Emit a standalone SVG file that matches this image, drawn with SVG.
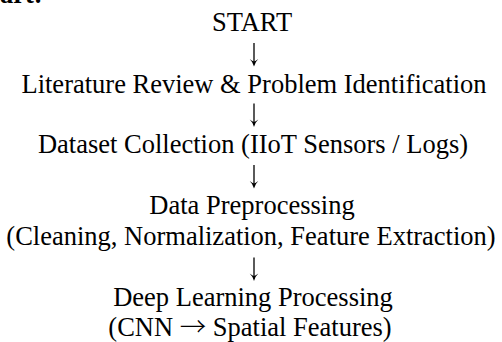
<svg xmlns="http://www.w3.org/2000/svg" width="502" height="342" viewBox="0 0 502 342">
<style>
text{font-family:"Liberation Serif","Times New Roman",serif;font-size:26.5px;fill:#000;text-anchor:middle}
.cut{text-anchor:start;font-weight:bold}
.ar{font-family:"Noto Sans CJK JP","Liberation Serif",serif;font-weight:300}
.shaft{stroke:#000;stroke-width:1.3;fill:none}
.head{fill:#000;stroke:none}
</style>
<defs>
<g id="arr">
<line class="shaft" x1="0" y1="0" x2="0" y2="21"/>
<path class="head" d="M-4.3,16 Q-1.5,18.5 0,23.5 Q1.5,18.5 4.3,16 Q1.5,18 0,18.5 Q-1.5,18 -4.3,16 Z"/>
</g>
</defs>
<rect width="502" height="342" fill="#fff"/>
<text class="cut" x="0" y="2.5">art:</text>
<g id="start"><text x="252" y="31">START</text></g>
<g id="literature"><text x="254" y="92.5">Literature Review &amp; Problem Identification</text></g>
<g id="dataset"><text x="253" y="153">Dataset Collection (IIoT Sensors / Logs)</text></g>
<g id="preprocessing"><text x="252" y="214">Data Preprocessing</text><text x="251" y="244.5">(Cleaning, Normalization, Feature Extraction)</text></g>
<g id="deeplearning"><text x="253" y="305.5">Deep Learning Processing</text><text x="250" y="336">(CNN <tspan class="ar">→</tspan> Spatial Features)</text></g>
<g id="connectors">
<use href="#arr" x="254" y="43"/>
<use href="#arr" x="254" y="103.5"/>
<use href="#arr" x="254" y="165"/>
<use href="#arr" x="254" y="257.5"/>
</g>
</svg>
